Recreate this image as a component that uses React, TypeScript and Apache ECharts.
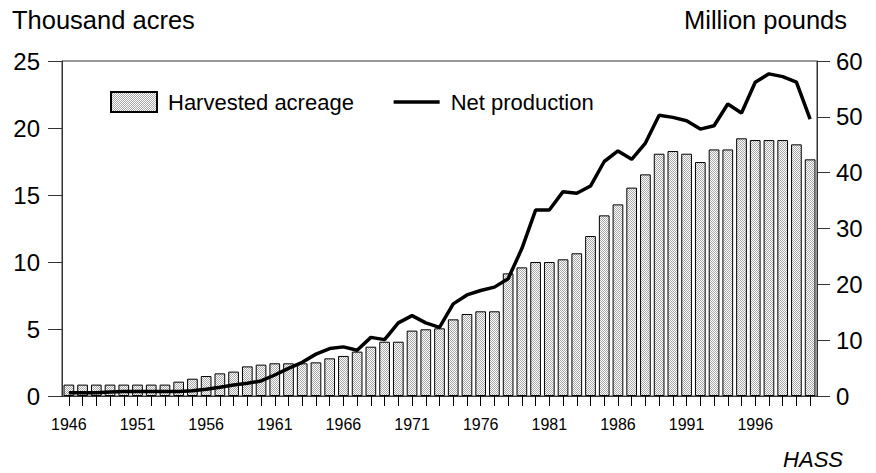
import React, { useEffect, useRef } from 'react';
import * as echarts from 'echarts';

const years: string[] = [
  '1946', '1947', '1948', '1949', '1950', '1951', '1952', '1953', '1954', '1955',
  '1956', '1957', '1958', '1959', '1960', '1961', '1962', '1963', '1964', '1965',
  '1966', '1967', '1968', '1969', '1970', '1971', '1972', '1973', '1974', '1975',
  '1976', '1977', '1978', '1979', '1980', '1981', '1982', '1983', '1984', '1985',
  '1986', '1987', '1988', '1989', '1990', '1991', '1992', '1993', '1994', '1995',
  '1996', '1997', '1998', '1999', '2000',
];

// Thousand acres
const harvestedAcreage: number[] = [
  0.85, 0.85, 0.85, 0.85, 0.85, 0.85, 0.85, 0.85, 1.07, 1.29,
  1.49, 1.69, 1.82, 2.21, 2.34, 2.44, 2.44, 2.44, 2.51, 2.81,
  2.99, 3.31, 3.68, 4.05, 4.05, 4.88, 4.98, 5.05, 5.72, 6.12,
  6.32, 6.32, 9.15, 9.6, 10.0, 10.0, 10.2, 10.65, 11.94, 13.48,
  14.3, 15.55, 16.54, 18.08, 18.28, 18.08, 17.46, 18.4, 18.4, 19.23,
  19.1, 19.1, 19.1, 18.78, 17.66,
];

// Million pounds
const netProduction: number[] = [
  0.6, 0.6, 0.6, 0.7, 0.8, 0.8, 0.8, 0.8, 0.8, 0.95,
  1.2, 1.55, 1.97, 2.27, 2.7, 3.76, 4.96, 6.03, 7.5, 8.5,
  8.8, 8.2, 10.5, 10.1, 13.1, 14.4, 13.1, 12.3, 16.5, 18.1,
  18.9, 19.5, 21.0, 26.4, 33.3, 33.3, 36.6, 36.3, 37.6, 42.0,
  43.9, 42.4, 45.3, 50.3, 49.9, 49.3, 47.8, 48.4, 52.3, 50.7,
  56.2, 57.7, 57.2, 56.2, 49.6,
];

const leftTicks = { min: 0, max: 25, interval: 5 };
const rightTicks = { min: 0, max: 60, interval: 10 };

const FONT = '"Liberation Sans", Arial, Helvetica, sans-serif';

function makePattern(): HTMLCanvasElement {
  const c = document.createElement('canvas');
  c.width = 2;
  c.height = 2;
  const ctx = c.getContext('2d')!;
  ctx.fillStyle = '#ffffff';
  ctx.fillRect(0, 0, 2, 2);
  ctx.fillStyle = '#a8a8a8';
  ctx.fillRect(0, 0, 1, 1);
  ctx.fillRect(1, 1, 1, 1);
  return c;
}

export default function App() {
  const ref = useRef<HTMLDivElement>(null);

  useEffect(() => {
    document.body.style.margin = '0';
    if (!ref.current) return;
    const chart = echarts.init(ref.current, null, { renderer: 'svg' });
    const pattern = { image: makePattern(), repeat: 'repeat' };
    const axisColor = '#333';

    chart.setOption({
      animation: false,
      textStyle: { fontFamily: FONT, color: '#000' },
      grid: {
        left: 62,
        right: 59,
        top: 61,
        bottom: 77,
        containLabel: false,
        show: true,
        borderColor: axisColor,
        borderWidth: 1,
        backgroundColor: 'transparent',
      },
      legend: {
        left: 110,
        top: 91,
        padding: 0,
        itemWidth: 46,
        itemHeight: 20,
        itemGap: 38,
        textStyle: { fontSize: 22, color: '#000', fontFamily: FONT, padding: [0, 0, 0, 6] },
        data: [
          { name: 'Harvested acreage', icon: 'rect' },
          {
            name: 'Net production',
            itemStyle: { opacity: 0, borderWidth: 0 },
            lineStyle: { width: 3.5, color: '#000' },
          },
        ],
      },
      xAxis: {
        type: 'category',
        data: years,
        boundaryGap: true,
        axisLine: { show: true, lineStyle: { color: axisColor, width: 1 } },
        axisTick: { show: true, alignWithLabel: true, interval: 0, length: 10, lineStyle: { color: '#000' } },
        axisLabel: { interval: 4, fontSize: 16, color: '#000', margin: 20, fontFamily: FONT },
        splitLine: { show: false },
      },
      yAxis: [
        {
          type: 'value',
          position: 'left',
          ...leftTicks,
          axisLine: { show: true, lineStyle: { color: axisColor } },
          axisTick: { show: true, length: 14, lineStyle: { color: axisColor } },
          axisLabel: { fontSize: 24, color: '#000', margin: 22, fontFamily: FONT },
          splitLine: { show: false },
        },
        {
          type: 'value',
          position: 'right',
          ...rightTicks,
          axisLine: { show: true, lineStyle: { color: axisColor } },
          axisTick: { show: true, length: 13, lineStyle: { color: axisColor } },
          axisLabel: { fontSize: 24, color: '#000', margin: 19, fontFamily: FONT },
          splitLine: { show: false },
        },
      ],
      series: [
        {
          name: 'Harvested acreage',
          type: 'bar',
          yAxisIndex: 0,
          data: harvestedAcreage,
          barCategoryGap: '22%',
          itemStyle: { color: pattern, borderColor: '#000', borderWidth: 1 },
        },
        {
          name: 'Net production',
          type: 'line',
          yAxisIndex: 1,
          data: netProduction,
          symbol: 'none',
          showSymbol: false,
          lineStyle: { color: '#000', width: 3.5 },
          itemStyle: { color: '#000' },
        },
      ],
      graphic: [
        {
          type: 'text',
          left: 12,
          top: 7,
          style: { text: 'Thousand acres', fontSize: 25.5, fill: '#000', fontFamily: FONT },
        },
        {
          type: 'text',
          right: 29,
          top: 7,
          style: { text: 'Million pounds', fontSize: 25.5, fill: '#000', fontFamily: FONT },
        },
        {
          type: 'text',
          right: 33,
          top: 448,
          style: { text: 'HASS', fontSize: 22, fontStyle: 'italic', fill: '#000', fontFamily: FONT },
        },
      ],
    });

    return () => chart.dispose();
  }, []);

  return (
    <div
      ref={ref}
      style={{ position: 'absolute', left: 0, top: 0, width: 876, height: 473 }}
    />
  );
}
